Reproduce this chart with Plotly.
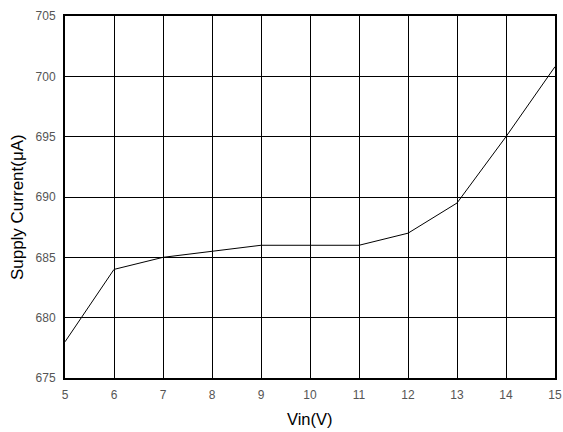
import plotly.graph_objects as go

vin = [5, 6, 7, 8, 9, 10, 11, 12, 13, 14, 15]
current = [678, 684, 685, 685.5, 686, 686, 686, 687, 689.5, 695, 700.8]
x_ticks = list(range(5, 16))
y_ticks = list(range(675, 706, 5))

fig = go.Figure()
fig.add_trace(go.Scatter(x=vin, y=current, mode="lines",
                         line=dict(color="#000000", width=1), showlegend=False))

fig.update_layout(
    width=563, height=432,
    margin=dict(l=65, r=8, t=16, b=54),
    paper_bgcolor="white", plot_bgcolor="white",
    font=dict(family="Liberation Sans, Arial, sans-serif", color="#000000"),
)
fig.update_xaxes(
    range=[5, 15], tickvals=x_ticks, ticktext=[str(v) for v in x_ticks],
    showgrid=True, gridcolor="#000000", gridwidth=1,
    showline=True, linecolor="#000000", linewidth=2, mirror=True,
    ticks="", ticklen=0, zeroline=False, ticklabelstandoff=5,
    tickfont=dict(size=12, color="#555555"),
    automargin=False,
)
fig.update_yaxes(
    range=[675, 705], tickvals=y_ticks, ticktext=[str(v) for v in y_ticks],
    showgrid=True, gridcolor="#000000", gridwidth=1,
    showline=True, linecolor="#000000", linewidth=2, mirror=True,
    ticks="", ticklen=0, zeroline=False, ticklabelstandoff=5,
    tickfont=dict(size=12, color="#555555"),
    automargin=False,
)
fig.add_annotation(text="Vin(V)", xref="paper", yref="paper", x=0.5, y=-0.113,
                   xanchor="center", yanchor="middle", showarrow=False,
                   font=dict(size=16.5, color="#000000"))
fig.add_annotation(text="Supply Current(μA)", xref="paper", yref="paper",
                   x=-0.098, y=0.472, textangle=-90,
                   xanchor="center", yanchor="middle", showarrow=False,
                   font=dict(size=17, color="#000000"))
fig.write_html("out.html")
